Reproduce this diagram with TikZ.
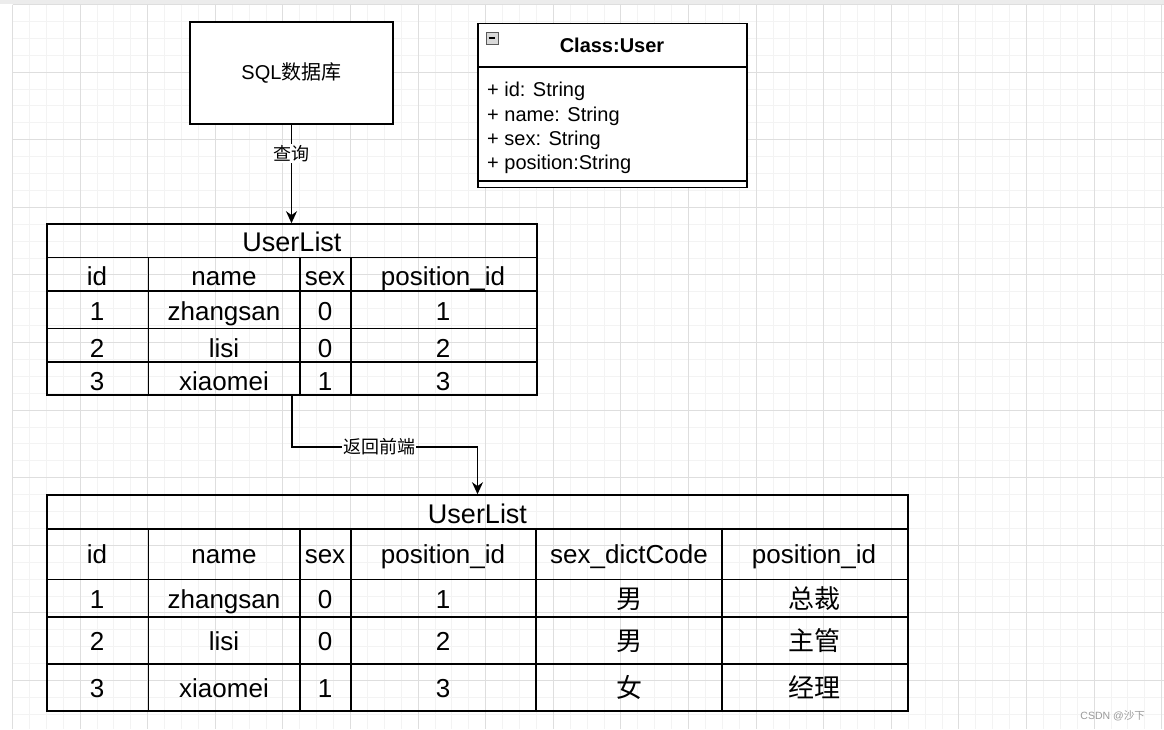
\documentclass[tikz,border=0pt]{standalone}
\usepackage{fontspec}
\setmainfont{Liberation Sans}
\newfontfamily\cjk{Noto Sans CJK SC}
\usetikzlibrary{arrows.meta}
\definecolor{gridminor}{HTML}{F3F3F3}
\definecolor{gridmajor}{HTML}{DEDEDE}
\definecolor{markgray}{HTML}{9A9A9A}

\begin{document}
\begin{tikzpicture}[x=1pt,y=-1pt,>={Stealth[length=12pt,width=11pt]},
    box/.style={draw,line width=1.6pt,inner sep=0pt,fill=white},
    table frame/.style={draw,line width=1.6pt,inner sep=0pt},
    rule/.style={line width=1.6pt},
    cell/.style={anchor=base,inner sep=0pt,font=\fontsize{26}{30}\selectfont},
    head/.style={anchor=base,inner sep=0pt,font=\fontsize{27}{32}\selectfont},
    attr/.style={anchor=base west,inner sep=0pt,font=\fontsize{20}{24}\selectfont},
    lbl/.style={fill=white,inner sep=1pt,font=\cjk\fontsize{18}{22}\selectfont}]
    \useasboundingbox (0,0) rectangle (1164,729);

    % canvas grid
    \fill[white] (0,0) rectangle (1164,729);
    \fill[gray!15] (0,0) rectangle (1164,4);
    \foreach \i in {0,...,68}
        \draw[gridminor,line width=1pt] ({12.5+16.9*\i},4.5) -- ({12.5+16.9*\i},729);
    \foreach \j in {0,...,43}
        \draw[gridminor,line width=1pt] (12.5,{4.5+16.9*\j}) -- (1164,{4.5+16.9*\j});
    \foreach \i in {0,...,17}
        \draw[gridmajor,line width=1pt] ({12.5+67.6*\i},4.5) -- ({12.5+67.6*\i},729);
    \foreach \j in {0,...,10}
        \draw[gridmajor,line width=1pt] (12.5,{4.5+67.6*\j}) -- (1164,{4.5+67.6*\j});

    % database
    \node[box,minimum width=203pt,minimum height=102pt,font=\fontsize{20}{24}\selectfont] (sql) at (291.5,73) {SQL{\cjk 数据库}};

    % class box
    \node[box,minimum width=269pt,minimum height=164pt] (user) at (612.5,105.5) {};
    \draw[rule] (478,67) -- (747,67);
    \draw[rule] (478,181) -- (747,181);
    \node[draw=gray!70!black,fill=gray!30,minimum size=12pt,inner sep=0pt,line width=0.8pt] (fold) at (492,38) {};
    \draw[line width=1.5pt] ([xshift=3pt]fold.west) -- ([xshift=-3pt]fold.east);
    \node[anchor=base,inner sep=0pt,font=\bfseries\fontsize{20}{24}\selectfont] (usertitle) at (612,52.7) {Class:User};
    \foreach \t [count=\k] in {{+ id: String},{+ name: String},{+ sex: String},{+ position:String}}
        \node[attr] (attr\k) at (487,{72.3+24.4*\k}) {\t};

    % first list
    \node[table frame,minimum width=490pt,minimum height=171pt] (listA) at (292,309.5) {};
    \foreach \y in {257.3,291,328.3,361.7}
        \draw[rule] (47,\y) -- (537,\y);
    \foreach \x in {148.3,300,350.7}
        \draw[rule] (\x,257.3) -- (\x,395);
    \node[head] (titleA) at (292,251.7) {UserList};
    \foreach \y/\r/\a/\b/\c/\d in {285.7/h/id/name/sex/position\_id,320/1/1/zhangsan/0/1,357.7/2/2/lisi/0/2,390.7/3/3/xiaomei/1/3} {
        \node[cell] (a-\r-1) at (97,\y) {\a};
        \node[cell] (a-\r-2) at (224,\y) {\b};
        \node[cell] (a-\r-3) at (325,\y) {\c};
        \node[cell] (a-\r-4) at (443,\y) {\d};
    }

    % second list
    \node[table frame,minimum width=861pt,minimum height=216pt] (listB) at (477.5,603) {};
    \foreach \y in {529,579.3,616.7,663.7}
        \draw[rule] (47,\y) -- (908,\y);
    \foreach \x in {148.3,300,350.7,536,722}
        \draw[rule] (\x,529) -- (\x,711);
    \node[head] (titleB) at (477.5,523) {UserList};
    \foreach \y/\r/\a/\b/\c/\d/\e/\f in {563/h/id/name/sex/position\_id/sex\_dictCode/position\_id,608/1/1/zhangsan/0/1/{\cjk 男}/{\cjk 总裁},650.7/2/2/lisi/0/2/{\cjk 男}/{\cjk 主管},697/3/3/xiaomei/1/3/{\cjk 女}/{\cjk 经理}} {
        \node[cell] (b-\r-1) at (97,\y) {\a};
        \node[cell] (b-\r-2) at (224,\y) {\b};
        \node[cell] (b-\r-3) at (325,\y) {\c};
        \node[cell] (b-\r-4) at (443,\y) {\d};
        \node[cell] (b-\r-5) at (629,\y) {\e};
        \node[cell] (b-\r-6) at (814,\y) {\f};
    }

    % connectors
    \coordinate (turn) at (379,447);
    \path[->,line width=1.6pt]
        (sql.south) edge node[lbl,pos=0.29] {查询} (sql.south |- listA.north);
    \draw[->,line width=1.6pt] (listA.south) |- (turn) node[lbl] {返回前端} -| (listB.north);

    \node[anchor=east,inner sep=0pt,text=markgray,font=\fontsize{10.5}{12}\selectfont] (csdn) at (1145,716) {CSDN @{\cjk 沙下}};
\end{tikzpicture}
\end{document}
